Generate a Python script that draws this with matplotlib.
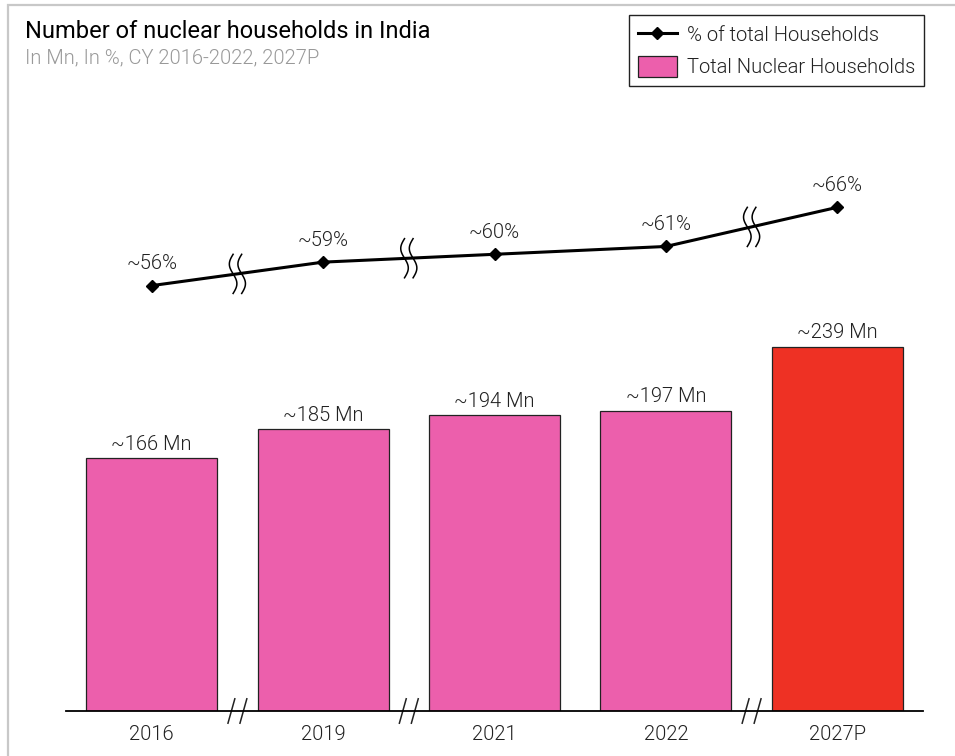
import numpy as np
import matplotlib.pyplot as plt
from matplotlib.lines import Line2D
from matplotlib.patches import Patch, Rectangle

plt.rcParams['font.family'] = ['Roboto', 'DejaVu Sans']

# data
years = ['2016', '2019', '2021', '2022', '2027P']
households_mn = [166, 185, 194, 197, 239]
share_pct = [56, 59, 60, 61, 66]
bar_labels = ['~166 Mn', '~185 Mn', '~194 Mn', '~197 Mn', '~239 Mn']
pct_labels = ['~56%', '~59%', '~60%', '~61%', '~66%']
breaks_after = [0, 1, 3]  # gaps in the year axis

PINK = '#EC5FAC'
RED = '#EE3124'
TXT = '#222222'
W = 300  # light text weight
FS = 14.5

fig = plt.figure(figsize=(9.55, 7.56), dpi=100)

# light grey frame on top/left
fig.add_artist(Rectangle((8 / 955, -0.1), 1.2, 1 - 5 / 756 + 0.1, transform=fig.transFigure,
                         fill=False, edgecolor='#c8c8c8', linewidth=1.6))

ax = fig.add_axes([66 / 955, 1 - 711 / 756, (923 - 66) / 955, (711 - 130) / 756])
x = np.arange(len(years))
colors = [PINK] * (len(years) - 1) + [RED]
ax.bar(x, households_mn, width=0.765, color=colors, edgecolor='#222222', linewidth=0.9, zorder=2)
for xi, v, lab in zip(x, households_mn, bar_labels):
    ax.annotate(lab, (xi, v), xytext=(0, 3), textcoords='offset points', ha='center', va='bottom',
                fontsize=FS, fontweight=W, color=TXT)

ax.set_xlim(-0.5, 4.5)
ax.set_ylim(0, (711 - 130) / 1.525)
for s in ['top', 'right', 'left']:
    ax.spines[s].set_visible(False)
ax.spines['bottom'].set_linewidth(1.3)
ax.set_yticks([])
ax.set_xticks(x)
ax.set_xticklabels(years, fontsize=FS, fontweight=W, color=TXT)
ax.tick_params(axis='x', length=0, pad=10)

# axis break marks "//"
for b in breaks_after:
    xm = b + 0.5
    for dx in (-0.035, 0.035):
        ax.add_line(Line2D([xm + dx - 0.02, xm + dx + 0.02], [-8, 8], transform=ax.transData,
                           color='#222222', linewidth=1.1, clip_on=False))

# percentage line on secondary axis
ax2 = ax.twinx()
ax2.set_ylim((724.1 - 711) / 7.83, (724.1 - 130) / 7.83)
ax2.axis('off')
ax2.plot(x, share_pct, color='black', linewidth=2.2, marker='D', markersize=6.5, zorder=3)
for xi, v, lab in zip(x, share_pct, pct_labels):
    ax2.annotate(lab, (xi, v), xytext=(0, 9), textcoords='offset points', ha='center', va='bottom',
                 fontsize=FS, fontweight=W, color=TXT)

# wavy break marks on the line
t = np.linspace(0, 1, 40)
for b in breaks_after:
    xm = b + 0.5
    ym = (share_pct[b] + share_pct[b + 1]) / 2
    for dx in (-0.025, 0.025):
        xs = xm + dx - 0.022 * np.sin(2 * np.pi * t)
        ys = ym + 2.5 - 5.0 * t
        ax2.plot(xs, ys, color='black', linewidth=1.1, zorder=4, clip_on=False)

# titles
fig.text(25 / 955, 1 - 32 / 756, 'Number of nuclear households in India', fontsize=17,
         color='black', va='center', ha='left')
fig.text(25 / 955, 1 - 58 / 756, 'In Mn, In %, CY 2016-2022, 2027P', fontsize=14.5,
         fontweight=W, color='#999999', va='center', ha='left')

handles = [Line2D([], [], color='black', linewidth=2.2, marker='D', markersize=6.5),
           Patch(facecolor=PINK, edgecolor='#222222', linewidth=0.9)]
leg = fig.legend(handles, ['% of total Households', 'Total Nuclear Households'],
                 loc='upper right', bbox_to_anchor=(924 / 955, 1 - 15 / 756), borderaxespad=0,
                 fancybox=False, framealpha=1, edgecolor='#222222',
                 prop={'weight': W, 'size': FS}, handlelength=1.9, handleheight=1.2,
                 borderpad=0.45, labelspacing=0.55, handletextpad=0.5)
leg.get_frame().set_linewidth(1.0)
for txt in leg.get_texts():
    txt.set_color(TXT)

fig.savefig('out.png', dpi=100)
